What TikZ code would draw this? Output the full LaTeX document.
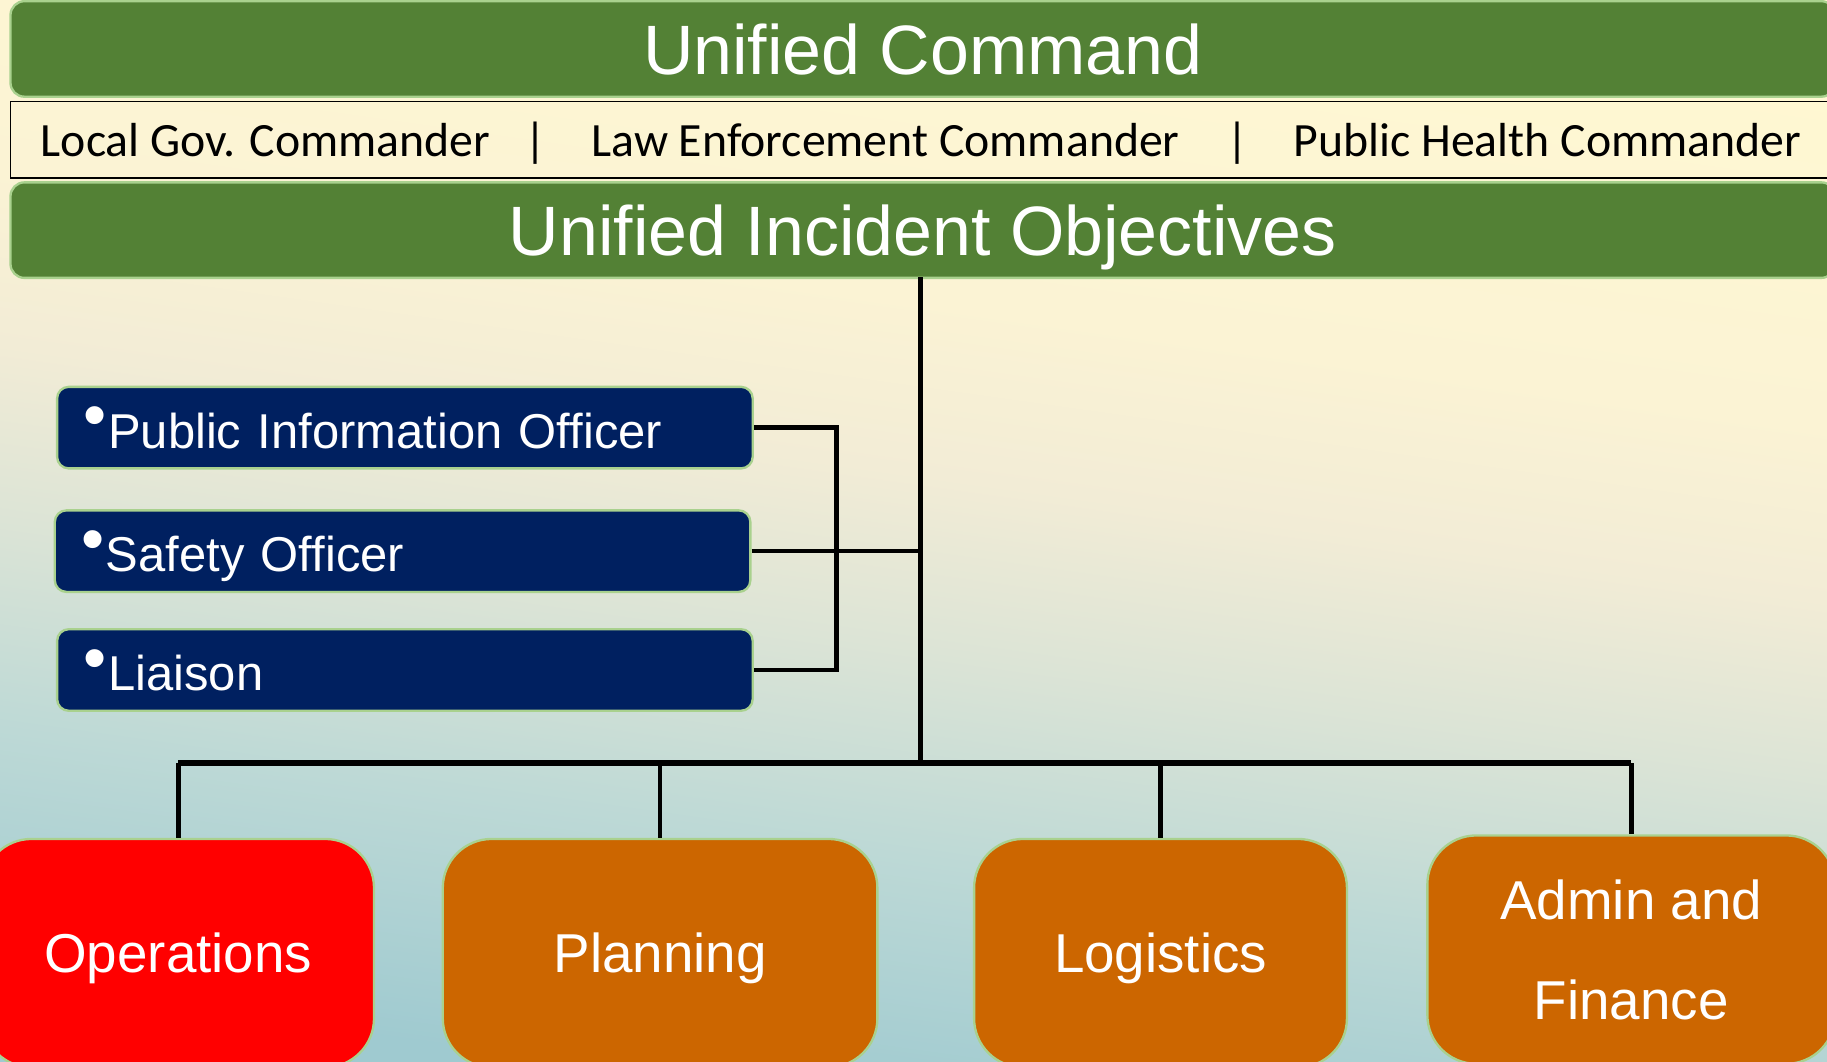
\documentclass[tikz,border=0pt]{standalone}
\usepackage{fontspec}
\setmainfont{Liberation Sans}
\newfontfamily\cmdfont{Carlito}
\usetikzlibrary{positioning}
\definecolor{bargreen}{HTML}{538135}
\definecolor{edgegreen}{HTML}{A9D18E}
\definecolor{officerblue}{HTML}{002060}
\definecolor{sectionorange}{HTML}{CC6600}
\definecolor{creamtop}{HTML}{FFF8D2}
\definecolor{creamhigh}{HTML}{FBF3D4}
\definecolor{creammid}{HTML}{F2ECD6}
\definecolor{paleblend}{HTML}{DCE4D6}
\definecolor{tealmid}{HTML}{BDD9D6}
\definecolor{tealbottom}{HTML}{9FCAD0}
\pgfdeclareverticalshading{slidebg}{100bp}{color(0bp)=(tealbottom); color(25bp)=(tealbottom);
	color(36bp)=(tealmid); color(45bp)=(paleblend); color(52.5bp)=(creammid); color(60bp)=(creamhigh);
	color(75bp)=(creamtop); color(100bp)=(creamtop)}
\tikzset{
	bar/.style={draw=edgegreen, line width=2pt, fill=bargreen, rounded corners=12pt, text=white,
		minimum width=1566pt, minimum height=82pt, text depth=0pt, font=\fontsize{60}{70}\selectfont},
	commander/.style={anchor=base, font=\cmdfont\fontsize{41}{48}\selectfont},
	officer/.style={draw=edgegreen, line width=2pt, fill=officerblue, rounded corners=10pt, text=white,
		minimum height=70pt, text width=551pt, inner xsep=23pt, align=left, text depth=0pt,
		font=\fontsize{42}{50}\selectfont},
	section/.style={draw=edgegreen, line width=2pt, fill=sectionorange, rounded corners=42pt, text=white,
		minimum height=196pt, align=center, text depth=0pt, font=\fontsize{47}{86}\selectfont},
	link/.style={line width=4pt},
}
\newcommand\bul{\raisebox{0.22em}{\scalebox{1.35}{\textbullet}}\kern1pt}
\begin{document}
\begin{tikzpicture}[x=1pt, y=-1pt]
	\useasboundingbox (0, 0) rectangle (1568, 911);
	\clip (0, 0) rectangle (1568, 911);
	\shade [shading=slidebg, shading angle=-8] (0, 0) rectangle (1568, 911);

	\node [bar] (command) at (792, 42) {Unified Command};
	\node [draw, line width=1.5pt, minimum width=1566pt, minimum height=66pt] (commanders) at (792, 120) {};
	\node [commander] (localcmd) at (228, 134) {Local Gov. Commander};
	\node [commander] (sepa) at (460, 134) {|};
	\node [commander] (lawcmd) at (760, 134) {Law Enforcement Commander};
	\node [commander] (sepb) at (1062, 134) {|};
	\node [commander] (healthcmd) at (1328, 134) {Public Health Commander};
	\node [bar] (objectives) at (792, 197.5) {Unified Incident Objectives};

	\node [officer] (pio) at (347.5, 367) {\bul Public Information Officer};
	\node [officer] (safety) at (345.5, 473) {\bul Safety Officer};
	\node [officer] (liaison) at (347.5, 575) {\bul Liaison};

	\node [section, fill=red, minimum width=336pt] (ops) at (153, 818) {Operations};
	\node [section, minimum width=373pt] (plan) at (566.5, 818) {Planning};
	\node [section, minimum width=320pt] (logi) at (996, 818) {Logistics};
	\node [section, minimum width=350pt] (admin) at (1400, 815) {Admin and\\Finance};

	\coordinate (trunktop) at (790, 238);
	\coordinate (hub) at (790, 655);
	\draw [link] (trunktop) -- (hub);
	\draw [link] (pio.east) -| (718, 575) -- (liaison.east);
	\draw [link] (safety.east) -- (safety.east -| hub);
	\draw [line width=5pt] (ops.north |- hub) -- (admin.north |- hub);
	\foreach \s in {ops, plan, logi, admin}
		\draw [link] (\s.north |- hub) -- (\s.north);
\end{tikzpicture}
\end{document}
